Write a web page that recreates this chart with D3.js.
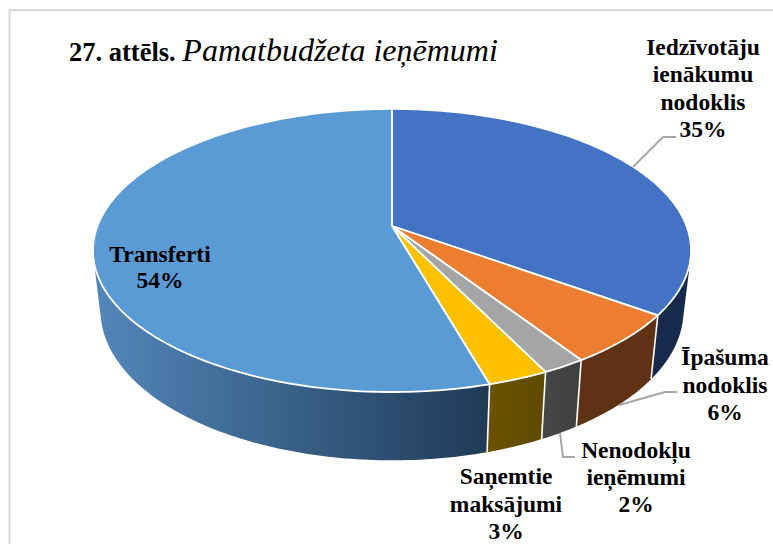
<!DOCTYPE html>
<html><head><meta charset="utf-8">
<script src="https://cdn.jsdelivr.net/npm/d3@7/dist/d3.min.js"></script>
<style>html,body{margin:0;padding:0;background:#fff;overflow:hidden}svg{display:block}</style>
</head><body><svg id="c" width="773" height="544"></svg>
<script>
const categories = ["Iedzīvotāju ienākumu nodoklis","Īpašuma nodoklis","Nenodokļu ieņēmumi","Saņemtie maksājumi","Transferti"];
const values = [34.9,5.8,2.0,2.8,54.4];
const topColors = ["#4472c4","#ed7d31","#a5a5a5","#ffc000","#5b9bd5"];
const sideStart = ["#1b3157","#5f3215","#474747","#6a5200","#5387ba"];
const sideEnd   = ["#172a4c","#5f3215","#3f3f3f","#5f4a00","#1f3a56"];
const labelLines = [["Iedzīvotāju","ienākumu","nodoklis","35%"],["Īpašuma","nodoklis","6%"],["Nenodokļu","ieņēmumi","2%"],["Saņemtie","maksājumi","3%"],["Transferti","54%"]];
const labelPos = [[703,55,27.4],[725,365,27.5],[636,458,27],[506,484,27.5],[160,262,26]];
const leaders = [[[633,167],[663,137],[676,137]],[[619,405],[665,392],[677,392]],[[560,433],[563,457],[575,457]]];

const svg = d3.select("#c");
svg.append("path").attr("d","M773,10H9.5V544").attr("fill","none").attr("stroke","#d9d9d9").attr("stroke-width",2);

const cx=392, persp=-0.173;
const proj=(rx,ry,cy)=>a=>{const u=Math.sin(a),v=-Math.cos(a),w=1+persp*v;return [cx+rx*u/w,cy+ry*v/w];};
const topP=proj(294.5,137.3,226), lowP=proj(287,145,285);
const pie=d3.pie().sort(null).value(d=>d)(values);
const line=d3.line();
const sample=(s,e,f)=>{const n=Math.max(2,Math.ceil((e-s)*60));return d3.range(n+1).map(i=>f(s+(e-s)*i/n));};

const defs=svg.append("defs");
pie.forEach((p,i)=>{
  const front=p.index===4?[topP(p.startAngle)[0],93]:[topP(p.startAngle)[0],topP(p.endAngle)[0]];
  const g=defs.append("linearGradient").attr("id","g"+i).attr("gradientUnits","userSpaceOnUse")
    .attr("x1",Math.min(...front)).attr("x2",Math.max(...front)).attr("y1",0).attr("y2",0);
  g.append("stop").attr("offset",0).attr("stop-color",sideStart[i]);
  g.append("stop").attr("offset",1).attr("stop-color",sideEnd[i]);
});
const sides=[4,0,3,1,2];
svg.append("g").selectAll("path").data(sides).join("path")
  .attr("d",i=>{const p=pie[i];return line(d3.polygonHull([...sample(p.startAngle,p.endAngle,topP),...sample(p.startAngle,p.endAngle,lowP)]))+"Z";})
  .attr("fill",i=>`url(#g${i})`);
svg.append("g").selectAll("line").data(pie.slice(0,4)).join("line")
  .attr("x1",p=>topP(p.endAngle)[0]).attr("y1",p=>topP(p.endAngle)[1])
  .attr("x2",p=>lowP(p.endAngle)[0]).attr("y2",p=>lowP(p.endAngle)[1])
  .attr("stroke","#fff").attr("stroke-width",1.6);
svg.append("g").selectAll("path").data(pie).join("path")
  .attr("d",p=>line([[cx,226],...sample(p.startAngle,p.endAngle,topP)])+"Z")
  .attr("fill",(p,i)=>topColors[i]).attr("stroke","#fff").attr("stroke-width",1.8).attr("stroke-linejoin","round");

svg.append("g").selectAll("path").data(leaders).join("path")
  .attr("d",d=>line(d)).attr("fill","none").attr("stroke","#a6a6a6").attr("stroke-width",2);

const font="'Liberation Serif','Times New Roman',serif";
const t=svg.append("text").attr("x",69).attr("y",61).attr("font-family",font).attr("fill","#000");
t.append("tspan").attr("font-weight","bold").attr("font-size",26.5).text("27. attēls. ");
t.append("tspan").attr("font-style","italic").attr("font-size",32).text("Pamatbudžeta ieņēmumi");

labelLines.forEach((ls,i)=>{
  const [x,y,h]=labelPos[i];
  svg.append("text").attr("text-anchor","middle").attr("font-family",font).attr("font-weight","bold").attr("font-size",23.5).attr("fill","#000")
    .selectAll("tspan").data(ls).join("tspan").attr("x",x).attr("y",(d,k)=>y+k*h).text(d=>d);
});
</script></body></html>
